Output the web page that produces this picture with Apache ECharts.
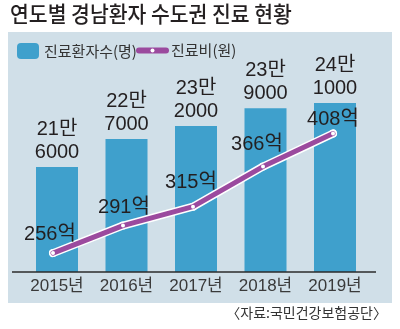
<!DOCTYPE html>
<html>
<head>
<meta charset="utf-8">
<script src="https://cdn.jsdelivr.net/npm/echarts@6/dist/echarts.min.js"></script>
<style>
html,body{margin:0;padding:0;background:#fff;}
#c{width:400px;height:329px;}
</style>
</head>
<body>
<div id="c"></div>
<script>
var years = ['2015년', '2016년', '2017년', '2018년', '2019년'];
var patients = [216000, 227000, 232000, 239000, 241000];
var patientLabels = ['21만\n6000', '22만\n7000', '23만\n2000', '23만\n9000', '24만\n1000'];
var costs = [256, 291, 315, 366, 408];
var costLabels = ['256억', '291억', '315억', '366억', '408억'];

var titleText = '연도별 경남환자 수도권 진료 현황';
var sourceText = '〈자료:국민건강보험공단〉';
var barName = '진료환자수(명)';
var lineName = '진료비(원)';

var NUM = "'Liberation Sans', 'Noto Sans CJK KR', sans-serif";
var KR = "'Noto Sans CJK KR', sans-serif";
var costLabelOffsets = [[-3, -19], [1, -18], [-2, -24], [-6, -22], [0, -14]];

var chart = echarts.init(document.getElementById('c'), null, {renderer: 'canvas'});
var option = {
  animation: false,
  backgroundColor: '#ffffff',
  graphic: [
    {type: 'rect', z: -10, shape: {x: 8, y: 32, width: 384, height: 271}, style: {fill: '#d0dfe8'}},
    {type: 'text', left: 10, top: 3, scaleX: 0.93, style: {text: titleText, font: '500 22px ' + KR, fill: '#231f20'}},
    {type: 'line', z: 5, shape: {x1: 12, y1: 272, x2: 376, y2: 272}, style: {stroke: '#2b2b2b', lineWidth: 1.5}},
    {type: 'text', right: 13, top: 306, style: {text: sourceText, font: '14px ' + KR, fill: '#333333'}}
  ],
  legend: [
    {
      data: [barName], left: 17, top: 43, padding: 0, itemWidth: 22, itemHeight: 16, itemGap: 3,
      textStyle: {fontFamily: KR, fontSize: 15, color: '#333333'}
    },
    {
      data: [{name: lineName, itemStyle: {color: '#ffffff', borderWidth: 0}, lineStyle: {width: 6, color: '#9b4a9e', cap: 'round'}}],
      left: 136, top: 43, padding: 0, itemWidth: 27, itemHeight: 5,
      textStyle: {fontFamily: KR, fontSize: 15, color: '#333333'}
    }
  ],
  grid: [
    {left: 22.25, width: 347.5, top: 80, bottom: 57},
    {left: 18, width: 350, top: 80, bottom: 57}
  ],
  xAxis: [
    {
      type: 'category', data: years, gridIndex: 0,
      axisLine: {show: false}, axisTick: {show: false},
      axisLabel: {interval: 0, fontFamily: NUM, fontSize: 17, color: '#3a3a3a', margin: 6}
    },
    {type: 'category', data: years, gridIndex: 1, show: false}
  ],
  yAxis: [
    {type: 'value', gridIndex: 0, min: 175000, max: 250000, show: false, splitLine: {show: false}},
    {type: 'value', gridIndex: 1, min: 232, max: 476, show: false, splitLine: {show: false}}
  ],
  series: [
    {
      name: barName, type: 'bar', xAxisIndex: 0, yAxisIndex: 0,
      data: patients, barWidth: 42,
      itemStyle: {color: '#3fa0cc'},
      label: {
        show: true, position: 'top', distance: 3,
        formatter: function (p) { return patientLabels[p.dataIndex]; },
        fontFamily: NUM, fontSize: 20, lineHeight: 23, color: '#231f20', align: 'center'
      }
    },
    {
      name: 'outline', type: 'line', xAxisIndex: 1, yAxisIndex: 1,
      data: costs, symbol: 'circle', symbolSize: 8, showSymbol: true,
      itemStyle: {color: '#ffffff'},
      lineStyle: {color: '#ffffff', width: 8, cap: 'round', join: 'round'},
      z: 3, silent: true
    },
    {
      name: lineName, type: 'line', xAxisIndex: 1, yAxisIndex: 1,
      data: costs.map(function (v, i) {
        return {value: v, label: {offset: costLabelOffsets[i]}};
      }),
      symbol: 'circle', symbolSize: 4,
      itemStyle: {color: '#ffffff', borderWidth: 0},
      lineStyle: {color: '#9b4a9e', width: 5, cap: 'round', join: 'round'},
      z: 4,
      label: {
        show: true, position: 'inside',
        formatter: function (p) { return costLabels[p.dataIndex]; },
        fontFamily: NUM, fontSize: 20, color: '#231f20'
      }
    }
  ]
};
chart.setOption(option);
</script>
</body>
</html>
